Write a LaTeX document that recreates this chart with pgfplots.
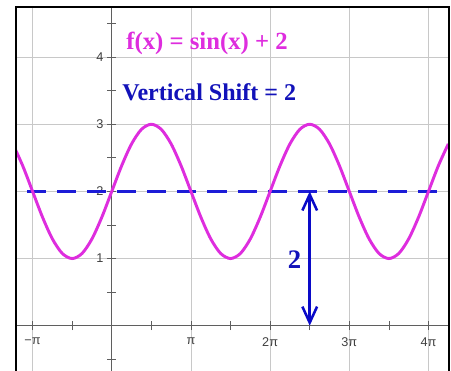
\documentclass[border=0pt]{standalone}
\usepackage{fontspec}
\setmainfont{Liberation Serif}
\setsansfont{Liberation Sans}
\usepackage{pgfplots}
\pgfplotsset{compat=1.18}
\usetikzlibrary{arrows.meta}

\definecolor{curvemag}{RGB}{222,45,222}
\definecolor{shiftblue}{RGB}{28,28,215}
\definecolor{arrowblue}{RGB}{10,10,200}
\definecolor{textblue}{RGB}{18,18,185}
\definecolor{gridgray}{RGB}{200,200,200}
\definecolor{axisgray}{RGB}{95,95,95}

\begin{document}
\begin{tikzpicture}
\begin{axis}[
    scale only axis,
    width=324pt, height=272.25pt,
    xmin=-1.209, xmax=4.259,
    ymin=-0.672, ymax=4.746,
    axis lines=middle,
    axis line style={-, draw=axisgray, line width=0.8pt},
    xtick={-1,1,2,3,4},
    xticklabels={−π,π,2π,3π,4π},
    minor xtick={-0.5,0.5,1.5,2.5,3.5},
    ytick={1,2,3,4},
    yticklabels={1,2,3,4},
    minor ytick={-0.5,0.5,1.5,2.5,3.5,4.5},
    grid=major,
    major grid style={draw=gridgray, line width=0.6pt},
    tick align=center,
    major tick length=6.5pt, minor tick length=6.5pt,
    tick style={draw=axisgray, line width=0.6pt},
    ticklabel style={font=\sffamily\fontsize{9.5}{11}\selectfont, text=black!75},
    xticklabel style={yshift=-2.5pt},
    yticklabel style={xshift=0.5pt},
]
% dashed midline y = 2
\addplot[shiftblue, line width=2.3pt, dash pattern=on 14.25pt off 8.25pt, dash phase=14.25pt]
  coordinates {(-1.209,2) (4.259,2)};

% f(x) = sin(x) + 2, x in units of pi
\addplot[curvemag, line width=2.2pt, smooth, no markers] table {%
x y
-1.25 2.7071
-1.125 2.3827
-1 2
-0.875 1.6173
-0.75 1.2929
-0.625 1.0761
-0.5 1
-0.375 1.0761
-0.25 1.2929
-0.125 1.6173
0 2
0.125 2.3827
0.25 2.7071
0.375 2.9239
0.5 3
0.625 2.9239
0.75 2.7071
0.875 2.3827
1 2
1.125 1.6173
1.25 1.2929
1.375 1.0761
1.5 1
1.625 1.0761
1.75 1.2929
1.875 1.6173
2 2
2.125 2.3827
2.25 2.7071
2.375 2.9239
2.5 3
2.625 2.9239
2.75 2.7071
2.875 2.3827
3 2
3.125 1.6173
3.25 1.2929
3.375 1.0761
3.5 1
3.625 1.0761
3.75 1.2929
3.875 1.6173
4 2
4.125 2.3827
4.25 2.7071
};

% vertical shift arrow
\addplot[arrowblue, line width=1.9pt,
  {Straight Barb[length=12pt,width=11pt]}-{Straight Barb[length=12pt,width=11pt]}]
  coordinates {(2.5,2) (2.5,0)};

\node[anchor=west, inner sep=0pt, text=curvemag, font=\bfseries\fontsize{18.5}{20}\selectfont]
  at (axis cs:0.18,4.21) {f(x) = sin(x) + 2};
\node[anchor=west, inner sep=0pt, text=textblue, font=\bfseries\fontsize{18}{20}\selectfont]
  at (axis cs:0.13,3.48) {Vertical Shift = 2};
\node[inner sep=0pt, text=textblue, font=\bfseries\fontsize{20}{22}\selectfont]
  at (axis cs:2.31,0.985) {2};

\coordinate (SW) at (rel axis cs:0,0);
\coordinate (NE) at (rel axis cs:1,1);
\end{axis}
\draw[black, line width=2pt] (SW) -- (SW|-NE) -- (NE) -- (NE|-SW);
\pgfresetboundingbox
\useasboundingbox ([xshift=-12pt]SW) rectangle ([xshift=1.5pt,yshift=5.25pt]NE);
\end{tikzpicture}
\end{document}
